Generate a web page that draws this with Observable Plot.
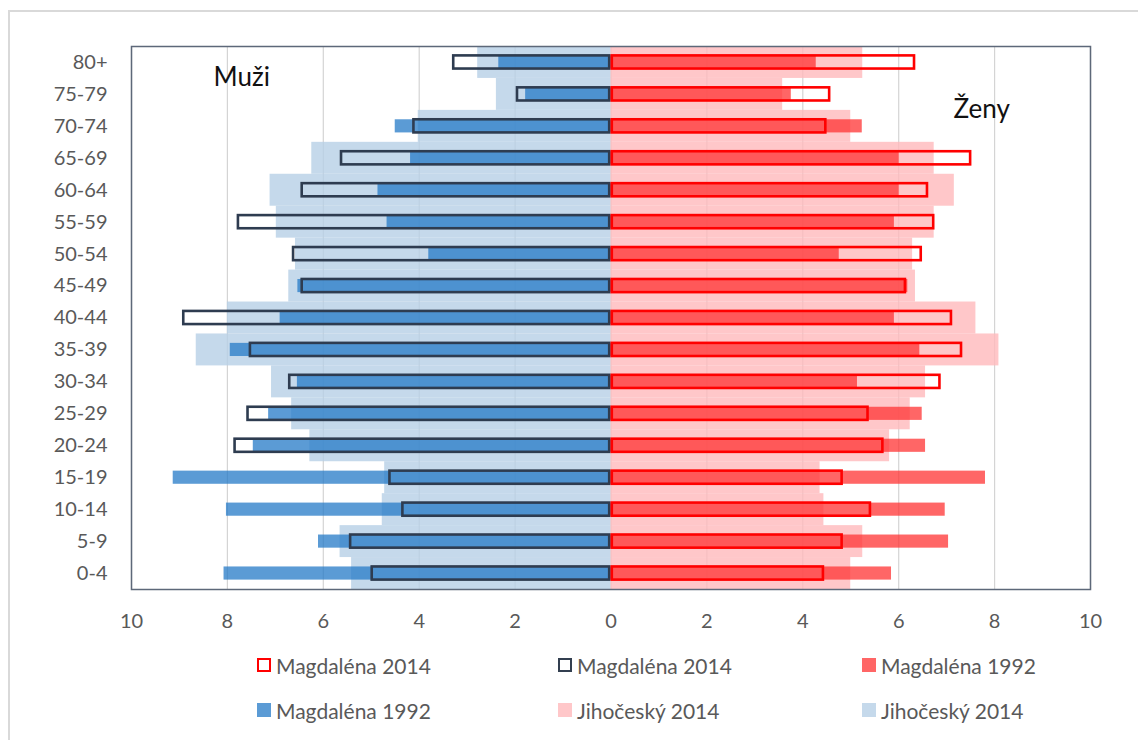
<!DOCTYPE html>
<html>
<head>
<meta charset="utf-8">
<script src="https://cdn.jsdelivr.net/npm/d3@7"></script>
<script src="https://cdn.jsdelivr.net/npm/@observablehq/plot@0.6"></script>
<style>
  html, body { margin: 0; padding: 0; background: #fff; }
  body { width: 1138px; height: 740px; position: relative; overflow: hidden; font-family: Lato, "Open Sans", sans-serif; }
  #border { position: absolute; left: 8px; top: 10px; width: 1200px; height: 800px; border-left: 2px solid #d9d9d9; border-top: 2px solid #d9d9d9; }
  #chart { position: absolute; left: 0; top: 0; }
  .leg { position: absolute; display: flex; align-items: center; font-size: 21px; color: #595959; white-space: nowrap; }
  .sw { width: 14px; height: 14px; box-sizing: border-box; margin-right: 5px; }
</style>
</head>
<body>
<div id="border"></div>
<div id="chart"></div>
<div id="legend"></div>
<script>
// Age groups (bottom to top)
const ages = ["0-4","5-9","10-14","15-19","20-24","25-29","30-34","35-39","40-44","45-49","50-54","55-59","60-64","65-69","70-74","75-79","80+"];
// Men (Muži), percent
const male2014 = [4.98, 5.43, 4.34, 4.61, 7.84, 7.57, 6.70, 7.52, 8.91, 6.44, 6.62, 7.77, 6.44, 5.62, 4.11, 1.95, 3.28];
const male1992 = [8.07, 6.10, 8.02, 9.13, 7.46, 7.14, 6.54, 7.94, 6.90, 6.53, 3.80, 4.67, 4.86, 4.18, 4.50, 1.78, 2.34];
const maleJih2014 = [5.41, 5.65, 4.77, 4.72, 6.28, 6.66, 7.08, 8.65, 8.00, 6.72, 6.58, 6.98, 7.11, 6.24, 4.02, 2.39, 2.78];
// Women (Ženy), percent
const female2014 = [4.43, 4.82, 5.41, 4.82, 5.67, 5.36, 6.86, 7.31, 7.10, 6.14, 6.47, 6.73, 6.60, 7.50, 4.48, 4.56, 6.33];
const female1992 = [5.85, 7.04, 6.97, 7.81, 6.56, 6.49, 5.14, 6.44, 5.91, 6.19, 4.76, 5.91, 6.01, 6.01, 5.24, 3.76, 4.28];
const femaleJih2014 = [5.00, 5.25, 4.44, 4.36, 5.81, 6.24, 6.56, 8.09, 7.61, 6.35, 6.29, 6.74, 7.16, 6.74, 5.00, 3.58, 5.25];
const xTicks = [-10, -8, -6, -4, -2, 0, 2, 4, 6, 8, 10];
const legendItems = [
  {label: "Magdaléna 2014", kind: "outline", color: "#ff0000"},
  {label: "Magdaléna 2014", kind: "outline", color: "#333f50"},
  {label: "Magdaléna 1992", kind: "fill", color: "#ff6666"},
  {label: "Magdaléna 1992", kind: "fill", color: "#5b9bd5"},
  {label: "Jihočeský 2014", kind: "fill", color: "#ffc7c9"},
  {label: "Jihočeský 2014", kind: "fill", color: "#c5d9eb"}
];
const sideLabels = [
  {text: "Muži", x: -7.69, age: "75-79", dy: 3},
  {text: "Ženy", x: 7.74, age: "70-74", dy: -16}
];

const rows = ages.map((age, i) => ({
  age,
  m14: -male2014[i], m92: -male1992[i], mJ: -maleJih2014[i],
  f14: female2014[i], f92: female1992[i], fJ: femaleJih2014[i]
}));

const inset = 9.4;
const chart = Plot.plot({
  width: 1138,
  height: 640,
  marginLeft: 131,
  marginRight: 48,
  marginTop: 46,
  marginBottom: 51,
  style: {fontFamily: "Lato, 'Open Sans', sans-serif", fontSize: "20px", color: "#595959", background: "transparent", overflow: "visible"},
  x: {domain: [-10, 10], label: null},
  y: {domain: ages.slice().reverse(), padding: 0, round: false, label: null},
  marks: [
    Plot.gridX(xTicks, {stroke: "#d4d4d4", strokeOpacity: 1, strokeWidth: 1.2}),
    Plot.barX(rows, {y: "age", x1: 0, x2: "mJ", fill: "#b7d0e6", fillOpacity: 0.8}),
    Plot.barX(rows, {y: "age", x1: 0, x2: "fJ", fill: "#ffb9bc", fillOpacity: 0.8}),
    Plot.barX(rows, {y: "age", x1: 0, x2: "m92", fill: "#247ac7", fillOpacity: 0.75, insetTop: inset, insetBottom: inset}),
    Plot.barX(rows, {y: "age", x1: 0, x2: "f92", fill: "#ff3333", fillOpacity: 0.75, insetTop: inset, insetBottom: inset}),
    Plot.barX(rows, {y: "age", x1: 0, x2: "m14", fill: "none", stroke: "#2e3c50", strokeWidth: 2.6, insetTop: inset, insetBottom: inset, insetRight: 1.3}),
    Plot.barX(rows, {y: "age", x1: 0, x2: "f14", fill: "none", stroke: "#ff0000", strokeWidth: 2.6, insetTop: inset, insetBottom: inset, insetLeft: 1.3}),
    Plot.frame({stroke: "#5d6879", strokeWidth: 1.5}),
    Plot.axisX(xTicks, {tickSize: 0, tickPadding: 24, tickFormat: d => Math.abs(d), fill: "#595959", fontSize: 20, label: null}),
    Plot.axisY({tickSize: 0, tickPadding: 24, fill: "#595959", fontSize: 20, label: null}),
    Plot.text(sideLabels, {x: "x", y: "age", text: "text", dy: "dy", fill: "#111", fontSize: 26, textAnchor: "middle"})
  ]
});
document.getElementById("chart").appendChild(chart);

// Legend (HTML, below the SVG)
const cols = [257, 558, 862];
const rowsY = [665, 710];
const legend = document.getElementById("legend");
legendItems.forEach((item, i) => {
  const div = document.createElement("div");
  div.className = "leg";
  div.style.left = cols[i % 3] + "px";
  div.style.top = (rowsY[Math.floor(i / 3)] - 14) + "px";
  div.style.height = "28px";
  const sw = document.createElement("span");
  sw.className = "sw";
  if (item.kind === "outline") {
    sw.style.border = "2px solid " + item.color;
    sw.style.background = "#fff";
  } else {
    sw.style.background = item.color;
  }
  const t = document.createElement("span");
  t.textContent = item.label;
  div.appendChild(sw);
  div.appendChild(t);
  legend.appendChild(div);
});
</script>
</body>
</html>
